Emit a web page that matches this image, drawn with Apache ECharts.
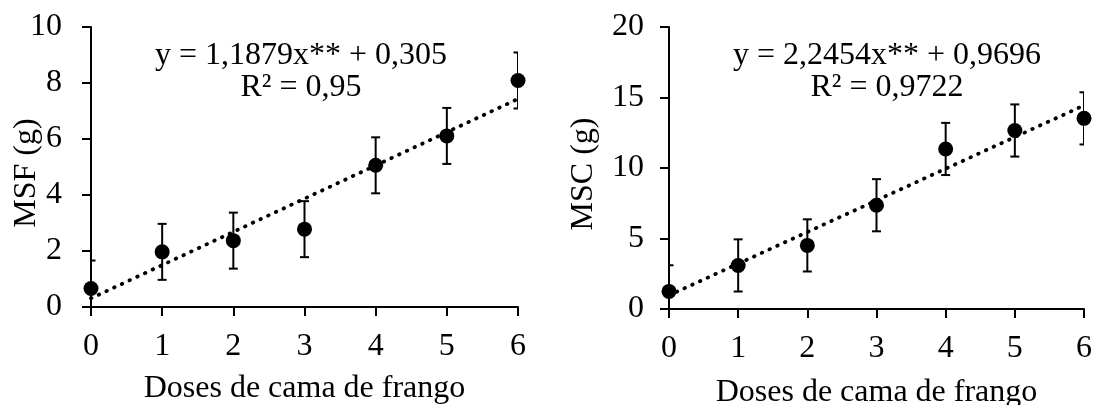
<!DOCTYPE html>
<html>
<head>
<meta charset="utf-8">
<script src="https://cdn.jsdelivr.net/npm/echarts@6/dist/echarts.min.js"></script>
<style>
    html, body {
        margin: 0;
        padding: 0;
        background: #fff;
    }
    #main {
        width: 1094px;
        height: 405px;
    }
</style>
</head>
<body>
<div id="main"></div>
<script>
// doses (x) shared by both panels
var doses = [0, 1, 2, 3, 4, 5, 6];

// MSF panel
var msfMean = [0.66, 1.97, 2.37, 2.78, 5.06, 6.11, 8.09];
var msfErr = [1.0, 1.0, 1.0, 1.0, 1.0, 1.0, 1.0];
var msfTrendX = [0, 6];
var msfTrendY = [0.31, 7.43];

// MSC panel
var mscMean = [1.25, 3.09, 4.51, 7.36, 11.35, 12.66, 13.52];
var mscErr = [1.85, 1.85, 1.85, 1.85, 1.85, 1.85, 1.85];
var mscTrendX = [0, 6];
var mscTrendY = [0.97, 14.44];

var xTicks = [0, 6, 1];      // min, max, interval
var msfTicks = [0, 10, 2];
var mscTicks = [0, 20, 5];

var FONT = '"Liberation Serif", "Times New Roman", serif';

function pairs(xs, ys) {
    return xs.map(function (x, i) { return [x, ys[i]]; });
}
function errRows(xs, m, e) {
    return xs.map(function (x, i) { return [x, m[i] - e[i], m[i] + e[i]]; });
}

function renderErr(params, api) {
    var x = api.value(0);
    var top = api.coord([x, api.value(2)]);
    var bot = api.coord([x, api.value(1)]);
    var w = 4.5;
    var st = { stroke: '#000', lineWidth: 2 };
    return {
        type: 'group',
        children: [
            { type: 'line', shape: { x1: top[0], y1: top[1], x2: bot[0], y2: bot[1] }, style: st },
            { type: 'line', shape: { x1: top[0] - w, y1: top[1], x2: top[0] + w, y2: top[1] }, style: st },
            { type: 'line', shape: { x1: bot[0] - w, y1: bot[1], x2: bot[0] + w, y2: bot[1] }, style: st }
        ]
    };
}

function xAx(idx, gap) {
    return {
        type: 'value',
        gridIndex: idx,
        min: xTicks[0], max: xTicks[1], interval: xTicks[2],
        name: 'Doses de cama de frango',
        nameLocation: 'middle',
        nameGap: gap,
        nameMoveOverlap: false,
        nameTextStyle: { fontFamily: FONT, fontSize: 32, color: '#000' },
        axisLine: { lineStyle: { color: '#000', width: 2 } },
        axisTick: { inside: false, length: 9, lineStyle: { color: '#000', width: 2 } },
        axisLabel: { margin: 24, fontFamily: FONT, fontSize: 32, color: '#000' },
        splitLine: { show: false }
    };
}

function yAx(idx, ticks, name, gap, margin) {
    return {
        type: 'value',
        gridIndex: idx,
        min: ticks[0], max: ticks[1], interval: ticks[2],
        name: name,
        nameLocation: 'middle',
        nameGap: gap,
        nameRotate: 90,
        nameMoveOverlap: false,
        nameTextStyle: { fontFamily: FONT, fontSize: 32, color: '#000', padding: [0, 12, 0, 0] },
        axisLine: { show: true, lineStyle: { color: '#000', width: 2 } },
        axisTick: { show: true, inside: false, length: 9, lineStyle: { color: '#000', width: 2 } },
        axisLabel: { margin: margin, fontFamily: FONT, fontSize: 32, color: '#000' },
        splitLine: { show: false }
    };
}

function panel(idx, mean, err, tx, ty) {
    return [
        {
            type: 'line',
            xAxisIndex: idx, yAxisIndex: idx,
            data: pairs(tx, ty),
            symbol: 'none',
            silent: true,
            lineStyle: { color: '#000', width: 3.8, type: [0.5, 8], cap: 'round', opacity: 1 },
            z: 2
        },
        {
            type: 'custom',
            xAxisIndex: idx, yAxisIndex: idx,
            data: errRows(doses, mean, err),
            renderItem: renderErr,
            clip: true,
            z: 3
        },
        {
            type: 'scatter',
            xAxisIndex: idx, yAxisIndex: idx,
            data: pairs(doses, mean),
            symbol: 'circle',
            symbolSize: 15,
            itemStyle: { color: '#000', opacity: 1 },
            clip: false,
            z: 4
        }
    ];
}

var option = {
    animation: false,
    backgroundColor: '#fff',
    grid: [
        { left: 91, top: 27, width: 427, height: 280, outerBoundsMode: 'none', containLabel: false },
        { left: 669, top: 27, width: 415, height: 282, outerBoundsMode: 'none', containLabel: false }
    ],
    xAxis: [xAx(0, 66), xAx(1, 68)],
    yAxis: [
        yAx(0, msfTicks, 'MSF (g)', 48, 29),
        yAx(1, mscTicks, 'MSC (g)', 69, 25)
    ],
    graphic: [
        {
            type: 'text', x: 301, y: 40,
            style: {
                text: 'y = 1,1879x** + 0,305\nR² = 0,95',
                font: '32px ' + FONT, fill: '#000',
                textAlign: 'center', verticalAlign: 'top', textVerticalAlign: 'top',
                lineHeight: 32
            }
        },
        {
            type: 'text', x: 887, y: 40,
            style: {
                text: 'y = 2,2454x** + 0,9696\nR² = 0,9722',
                font: '32px ' + FONT, fill: '#000',
                textAlign: 'center', verticalAlign: 'top', textVerticalAlign: 'top',
                lineHeight: 32
            }
        }
    ],
    series: panel(0, msfMean, msfErr, msfTrendX, msfTrendY)
        .concat(panel(1, mscMean, mscErr, mscTrendX, mscTrendY))
};

var myChart = echarts.init(document.getElementById('main'));
myChart.setOption(option);
</script>
</body>
</html>
